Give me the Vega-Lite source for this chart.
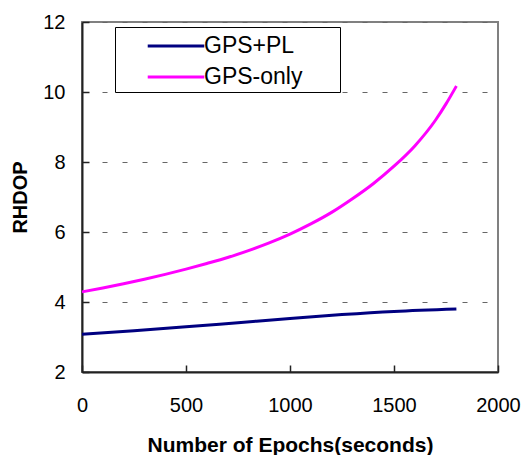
{
  "$schema": "https://vega.github.io/schema/vega-lite/v6.json",
  "autosize": "none",
  "padding": {"left": 82, "top": 22, "right": 28, "bottom": 83},
  "width": 416,
  "height": 350,
  "background": "white",
  "config": {
    "font": "Liberation Sans",
    "view": {"stroke": "#808080", "strokeWidth": 2}
  },
  "data": {
    "values": [
      {"epoch": 0, "rhdop": 3.08, "series": "GPS+PL"},
      {"epoch": 250, "rhdop": 3.18, "series": "GPS+PL"},
      {"epoch": 500, "rhdop": 3.29, "series": "GPS+PL"},
      {"epoch": 750, "rhdop": 3.41, "series": "GPS+PL"},
      {"epoch": 1000, "rhdop": 3.53, "series": "GPS+PL"},
      {"epoch": 1250, "rhdop": 3.64, "series": "GPS+PL"},
      {"epoch": 1500, "rhdop": 3.73, "series": "GPS+PL"},
      {"epoch": 1800, "rhdop": 3.80, "series": "GPS+PL"},
      {"epoch": 0, "rhdop": 4.29, "series": "GPS-only"},
      {"epoch": 100, "rhdop": 4.40, "series": "GPS-only"},
      {"epoch": 200, "rhdop": 4.52, "series": "GPS-only"},
      {"epoch": 300, "rhdop": 4.65, "series": "GPS-only"},
      {"epoch": 400, "rhdop": 4.79, "series": "GPS-only"},
      {"epoch": 500, "rhdop": 4.94, "series": "GPS-only"},
      {"epoch": 600, "rhdop": 5.10, "series": "GPS-only"},
      {"epoch": 700, "rhdop": 5.27, "series": "GPS-only"},
      {"epoch": 800, "rhdop": 5.47, "series": "GPS-only"},
      {"epoch": 900, "rhdop": 5.69, "series": "GPS-only"},
      {"epoch": 1000, "rhdop": 5.94, "series": "GPS-only"},
      {"epoch": 1100, "rhdop": 6.23, "series": "GPS-only"},
      {"epoch": 1200, "rhdop": 6.56, "series": "GPS-only"},
      {"epoch": 1300, "rhdop": 6.95, "series": "GPS-only"},
      {"epoch": 1400, "rhdop": 7.38, "series": "GPS-only"},
      {"epoch": 1500, "rhdop": 7.88, "series": "GPS-only"},
      {"epoch": 1600, "rhdop": 8.46, "series": "GPS-only"},
      {"epoch": 1700, "rhdop": 9.20, "series": "GPS-only"},
      {"epoch": 1750, "rhdop": 9.66, "series": "GPS-only"},
      {"epoch": 1800, "rhdop": 10.17, "series": "GPS-only"}
    ]
  },
  "mark": {"type": "line", "strokeWidth": 3, "interpolate": "monotone"},
  "encoding": {
    "x": {
      "field": "epoch",
      "type": "quantitative",
      "scale": {"domain": [0, 2000], "nice": false},
      "axis": {
        "title": "Number of Epochs(seconds)",
        "values": [0, 500, 1000, 1500, 2000],
        "format": "d",
        "grid": false,
        "domainColor": "#222",
        "domainWidth": 2,
        "tickColor": "#222",
        "tickWidth": 1.5,
        "tickSize": -7,
        "labelFontSize": 20,
        "labelColor": "#000",
        "labelPadding": 30,
        "labelFlush": false,
        "titleFontSize": 21,
        "titleFontWeight": "bold",
        "titleColor": "#000",
        "titlePadding": 19
      }
    },
    "y": {
      "field": "rhdop",
      "type": "quantitative",
      "scale": {"domain": [2, 12], "nice": false, "zero": false},
      "axis": {
        "title": "RHDOP",
        "values": [2, 4, 6, 8, 10, 12],
        "grid": true,
        "gridDash": [5, 15],
        "gridColor": "#666",
        "gridWidth": 1,
        "domainColor": "#222",
        "domainWidth": 2,
        "tickColor": "#222",
        "tickWidth": 1.5,
        "tickSize": -7,
        "labelFontSize": 20,
        "labelColor": "#000",
        "labelPadding": 24,
        "labelFlush": false,
        "titleFontSize": 20,
        "titleFontWeight": "bold",
        "titleColor": "#000",
        "titlePadding": 12
      }
    },
    "color": {
      "field": "series",
      "type": "nominal",
      "sort": ["GPS+PL", "GPS-only"],
      "scale": {"domain": ["GPS+PL", "GPS-only"], "range": ["#000080", "#FF00FF"]},
      "legend": {
        "title": "\u00a0",
        "titleOrient": "right",
        "titleFontSize": 8,
        "titlePadding": 35,
        "orient": "none",
        "legendX": 33,
        "legendY": 5,
        "strokeColor": "#000",
        "fillColor": "white",
        "padding": 3,
        "symbolType": "M-2,0H2",
        "symbolSize": 800,
        "symbolStrokeWidth": 3,
        "symbolOffset": 42,
        "labelFontSize": 23,
        "labelColor": "#000",
        "labelOffset": 12,
        "rowPadding": 3
      }
    }
  }
}
